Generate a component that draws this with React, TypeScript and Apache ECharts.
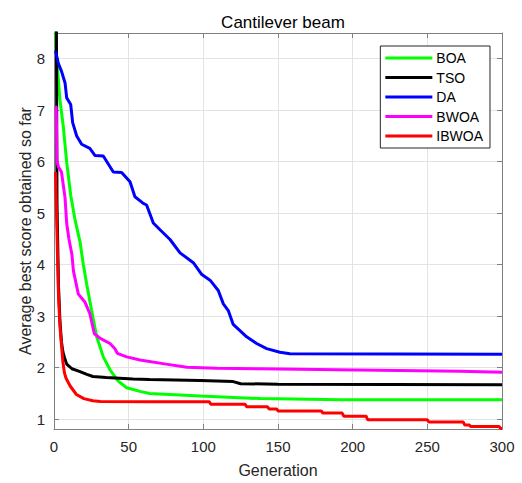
import React, { useEffect, useRef } from "react";
import * as echarts from "echarts";

const titleText = "Cantilever beam";
const xName = "Generation";
const yName = "Average best score obtained so far";
const seriesNames = ["BOA", "TSO", "DA", "BWOA", "IBWOA"];
const seriesColors = ["#00ff00", "#000000", "#0000ff", "#ff00ff", "#ff0000"];

const boaGen = [1, 1.8, 4, 6.2, 8.5, 11.2, 14.1, 17.4, 19.6, 21.9, 25.2, 28.6, 33, 37.5, 43, 48.7, 57.6, 64, 98, 138, 192, 300];
const boaVal = [8.6, 8.0, 7.2, 6.69, 5.99, 5.35, 4.87, 4.45, 4.01, 3.62, 3.11, 2.6, 2.21, 1.96, 1.74, 1.61, 1.54, 1.5, 1.45, 1.4, 1.38, 1.38];

const tsoGen = [1, 2, 3, 4, 5, 6, 7, 8.5, 12, 17, 22, 26, 35, 53, 64, 98, 120, 125, 150, 300];
const tsoVal = [14, 5.2, 3.6, 2.9, 2.5, 2.3, 2.2, 2.07, 1.98, 1.93, 1.87, 1.83, 1.81, 1.78, 1.77, 1.75, 1.73, 1.69, 1.68, 1.67];

const daGen = [1, 2.9, 5.1, 7.4, 8.5, 11.2, 12.5, 15.2, 18.5, 24, 27.5, 33, 39.7, 45.3, 50.9, 54.2, 59.8, 62, 66.5, 71, 77.7, 84.4, 93.3, 99, 104.5, 110, 113.4, 116.7, 120, 129, 135.7, 142.4, 151.3, 158, 300];
const daVal = [8.15, 7.91, 7.75, 7.53, 7.24, 7.11, 6.76, 6.5, 6.34, 6.26, 6.12, 6.11, 5.8, 5.79, 5.61, 5.32, 5.19, 5.16, 4.81, 4.68, 4.49, 4.23, 4.04, 3.81, 3.7, 3.5, 3.24, 3.11, 2.84, 2.6, 2.47, 2.37, 2.3, 2.27, 2.26];

const bwoaGen = [1, 1.5, 2, 3, 5, 7.4, 8.5, 10, 12, 13, 16.3, 20.8, 24, 27, 31, 37.5, 40.8, 42.4, 48.7, 57.6, 75, 89, 109, 138, 190, 272, 300];
const bwoaVal = [7.08, 7.05, 6.0, 5.9, 5.8, 5.3, 4.8, 4.5, 4.2, 3.88, 3.43, 3.27, 3.05, 2.66, 2.57, 2.47, 2.37, 2.28, 2.21, 2.15, 2.07, 2.01, 1.99, 1.98, 1.96, 1.93, 1.91];

const ibwoaGen = [1, 2, 3, 4, 5, 6, 7, 8, 10.7, 15, 20, 26, 31, 64, 104, 105, 128, 129, 143, 144, 149, 150, 179, 180, 193, 194, 209, 210, 250, 251, 274, 275, 278, 279, 298, 299, 300];
const ibwoaVal = [5.8, 4.6, 3.4, 2.8, 2.45, 2.1, 1.9, 1.8, 1.65, 1.48, 1.4, 1.36, 1.345, 1.34, 1.34, 1.29, 1.29, 1.24, 1.24, 1.2, 1.2, 1.16, 1.16, 1.12, 1.12, 1.06, 1.06, 0.99, 0.99, 0.945, 0.945, 0.89, 0.89, 0.86, 0.86, 0.82, 0.82];

const xMin = 0;
const xMax = 300;
const xInterval = 50;
const yMin = 0.81;
const yMax = 8.5;

const gens = [boaGen, tsoGen, daGen, bwoaGen, ibwoaGen];
const vals = [boaVal, tsoVal, daVal, bwoaVal, ibwoaVal];

const FONT = "'Liberation Sans', Arial, Helvetica, sans-serif";
const AXIS_COLOR = "#808080";
const TEXT_COLOR = "#262626";
const GRID_COLOR = "#e3e3e3";

export default function App() {
  const ref = useRef<HTMLDivElement>(null);

  useEffect(() => {
    if (!ref.current) return;
    const chart = echarts.init(ref.current, undefined, { renderer: "svg" });

    const intLabel = (v: number) => (Math.abs(v - Math.round(v)) < 1e-6 ? String(Math.round(v)) : "");

    const series = seriesNames.map((name, i) => ({
      name,
      type: "line",
      data: gens[i].map((g, k) => [g, vals[i][k]]),
      showSymbol: false,
      symbol: "none",
      clip: true,
      lineStyle: { color: seriesColors[i], width: 3 },
      itemStyle: { color: seriesColors[i] },
      xAxisIndex: 0,
      yAxisIndex: 0,
    }));

    chart.setOption({
      animation: false,
      backgroundColor: "#ffffff",
      textStyle: { fontFamily: FONT },
      title: {
        text: titleText,
        left: 278,
        textAlign: "center",
        top: 9,
        textStyle: { fontFamily: FONT, fontSize: 17, fontWeight: "normal", color: "#000000" },
      },
      grid: { left: 54, right: 20, top: 33, bottom: 50, containLabel: false },
      legend: {
        data: seriesNames.map((n) => ({ name: n, icon: "rect" })),
        orient: "vertical",
        right: 32,
        top: 46,
        itemWidth: 47,
        itemHeight: 3,
        itemGap: 5.5,
        padding: [5, 7, 5, 5],
        backgroundColor: "#ffffff",
        borderColor: "#262626",
        borderWidth: 1,
        borderRadius: 0,
        textStyle: { fontFamily: FONT, fontSize: 14, color: "#000000", lineHeight: 14, padding: [0, 0, 0, -1] },
      },
      xAxis: [
        {
          type: "value",
          min: xMin,
          max: xMax,
          interval: xInterval,
          name: xName,
          nameLocation: "middle",
          nameGap: 33,
          nameMoveOverlap: false,
          nameTextStyle: { fontFamily: FONT, fontSize: 16, color: TEXT_COLOR },
          axisLine: { show: true, onZero: false, lineStyle: { color: AXIS_COLOR, width: 1 } },
          axisTick: { show: true, inside: true, length: 5, lineStyle: { color: AXIS_COLOR } },
          axisLabel: { fontFamily: FONT, fontSize: 15, color: TEXT_COLOR, margin: 10 },
          splitLine: { show: true, lineStyle: { color: GRID_COLOR, width: 1 } },
        },
        {
          type: "value",
          position: "top",
          min: xMin,
          max: xMax,
          interval: xInterval,
          axisLine: { show: true, onZero: false, lineStyle: { color: AXIS_COLOR, width: 1 } },
          axisTick: { show: true, inside: true, length: 5, lineStyle: { color: AXIS_COLOR } },
          axisLabel: { show: false },
          splitLine: { show: false },
        },
      ],
      yAxis: [
        {
          type: "value",
          min: yMin,
          max: yMax,
          splitNumber: 8,
          name: yName,
          nameLocation: "middle",
          nameGap: 21,
          nameMoveOverlap: false,
          nameTextStyle: { fontFamily: FONT, fontSize: 16, color: TEXT_COLOR },
          axisLine: { show: true, onZero: false, lineStyle: { color: AXIS_COLOR, width: 1 } },
          axisTick: { show: true, inside: true, length: 5, lineStyle: { color: AXIS_COLOR } },
          axisLabel: { fontFamily: FONT, fontSize: 15, color: TEXT_COLOR, margin: 9, formatter: intLabel },
          splitLine: { show: true, lineStyle: { color: GRID_COLOR, width: 1 } },
        },
        {
          type: "value",
          position: "right",
          min: yMin,
          max: yMax,
          splitNumber: 8,
          axisLine: { show: true, onZero: false, lineStyle: { color: AXIS_COLOR, width: 1 } },
          axisTick: { show: true, inside: true, length: 5, lineStyle: { color: AXIS_COLOR } },
          axisLabel: { show: false },
          splitLine: { show: false },
        },
      ],
      series,
    });

    return () => {
      chart.dispose();
    };
  }, []);

  return (
    <div
      ref={ref}
      style={{ position: "fixed", left: 0, top: 0, width: 522, height: 483, background: "#ffffff" }}
    />
  );
}
